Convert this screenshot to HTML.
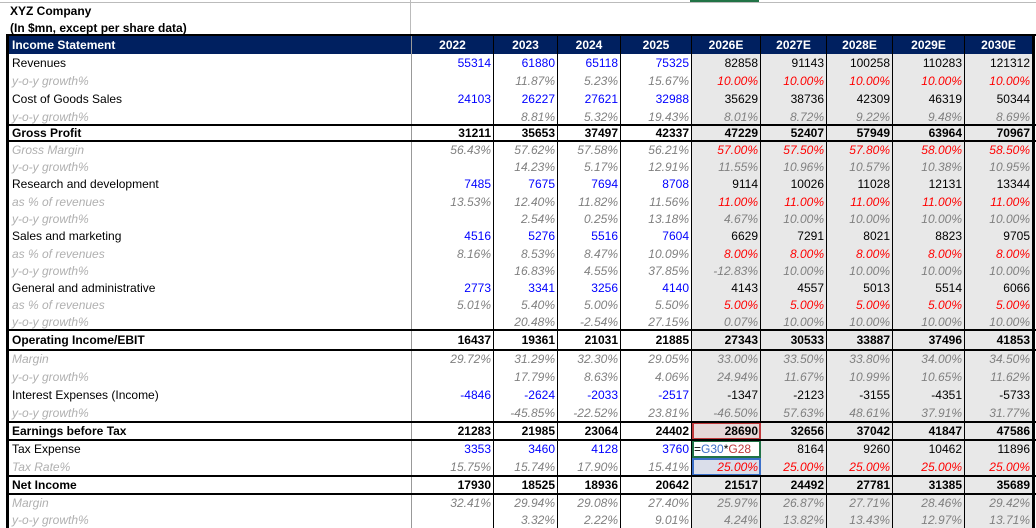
<!DOCTYPE html>
<html><head><meta charset="utf-8"><style>
body{margin:0;width:1036px;height:527px;overflow:hidden;background:#fff;font-family:"Liberation Sans",Arial,sans-serif;font-size:12px;position:relative}
.t{position:absolute;left:10px;font-weight:bold;font-size:12px}
table{position:absolute;left:6px;top:36px;border-collapse:collapse;table-layout:fixed;border-left:3px solid #000;border-right:3px solid #000}
td{padding:0 2px;white-space:nowrap;overflow:hidden;text-align:right;border-right:1px solid #000;line-height:14px}
td:first-child{text-align:left;border-right:1px solid #999;padding-left:3px}
tr.h td{background:#002060;color:#fff;font-weight:bold;text-align:center}
tr.h td:first-child{text-align:left}
tr.b td{font-weight:bold}
.s td{font-style:italic;color:#808080}
.s td:first-child{color:#b0b0b0}
td.f{background:#e8e8e8}
.bl{color:#0000ff}
.s td.r{color:#ff0000}
.ln{position:absolute;left:6px;width:1030px;height:2px;background:#000}
</style></head><body>
<div style="position:absolute;left:0;top:2px;width:1036px;height:1px;background:#bbb"></div>
<div style="position:absolute;left:690px;top:0;width:69px;height:2px;background:#217346"></div>
<div style="position:absolute;left:410px;top:0;width:1px;height:36px;background:#bbb"></div>
<div class="t" style="top:4px">XYZ Company</div>
<div class="t" style="top:21px">(In $mn, except per share data)</div>
<table>
<colgroup><col style="width:404px"><col style="width:82px"><col style="width:64px"><col style="width:63px"><col style="width:71px"><col style="width:69px"><col style="width:66px"><col style="width:66px"><col style="width:72px"><col style="width:69px"></colgroup>
<tr class="h" style="height:18px"><td>Income Statement</td><td>2022</td><td>2023</td><td>2024</td><td>2025</td><td>2026E</td><td>2027E</td><td>2028E</td><td>2029E</td><td>2030E</td></tr>
<tr style="height:18px"><td>Revenues</td><td class="bl">55314</td><td class="bl">61880</td><td class="bl">65118</td><td class="bl">75325</td><td class="f">82858</td><td class="f">91143</td><td class="f">100258</td><td class="f">110283</td><td class="f">121312</td></tr>
<tr class="s" style="height:18px"><td>y-o-y growth%</td><td></td><td>11.87%</td><td>5.23%</td><td>15.67%</td><td class="f r">10.00%</td><td class="f r">10.00%</td><td class="f r">10.00%</td><td class="f r">10.00%</td><td class="f r">10.00%</td></tr>
<tr style="height:18px"><td>Cost of Goods Sales</td><td class="bl">24103</td><td class="bl">26227</td><td class="bl">27621</td><td class="bl">32988</td><td class="f">35629</td><td class="f">38736</td><td class="f">42309</td><td class="f">46319</td><td class="f">50344</td></tr>
<tr class="s" style="height:17px"><td>y-o-y growth%</td><td></td><td>8.81%</td><td>5.32%</td><td>19.43%</td><td class="f">8.01%</td><td class="f">8.72%</td><td class="f">9.22%</td><td class="f">9.48%</td><td class="f">8.69%</td></tr>
<tr class="b" style="height:16px"><td>Gross Profit</td><td>31211</td><td>35653</td><td>37497</td><td>42337</td><td class="f">47229</td><td class="f">52407</td><td class="f">57949</td><td class="f">63964</td><td class="f">70967</td></tr>
<tr class="s" style="height:17px"><td>Gross Margin</td><td>56.43%</td><td>57.62%</td><td>57.58%</td><td>56.21%</td><td class="f r">57.00%</td><td class="f r">57.50%</td><td class="f r">57.80%</td><td class="f r">58.00%</td><td class="f r">58.50%</td></tr>
<tr class="s" style="height:17px"><td>y-o-y growth%</td><td></td><td>14.23%</td><td>5.17%</td><td>12.91%</td><td class="f">11.55%</td><td class="f">10.96%</td><td class="f">10.57%</td><td class="f">10.38%</td><td class="f">10.95%</td></tr>
<tr style="height:18px"><td>Research and development</td><td class="bl">7485</td><td class="bl">7675</td><td class="bl">7694</td><td class="bl">8708</td><td class="f">9114</td><td class="f">10026</td><td class="f">11028</td><td class="f">12131</td><td class="f">13344</td></tr>
<tr class="s" style="height:17px"><td>as % of revenues</td><td>13.53%</td><td>12.40%</td><td>11.82%</td><td>11.56%</td><td class="f r">11.00%</td><td class="f r">11.00%</td><td class="f r">11.00%</td><td class="f r">11.00%</td><td class="f r">11.00%</td></tr>
<tr class="s" style="height:17px"><td>y-o-y growth%</td><td></td><td>2.54%</td><td>0.25%</td><td>13.18%</td><td class="f">4.67%</td><td class="f">10.00%</td><td class="f">10.00%</td><td class="f">10.00%</td><td class="f">10.00%</td></tr>
<tr style="height:18px"><td>Sales and marketing</td><td class="bl">4516</td><td class="bl">5276</td><td class="bl">5516</td><td class="bl">7604</td><td class="f">6629</td><td class="f">7291</td><td class="f">8021</td><td class="f">8823</td><td class="f">9705</td></tr>
<tr class="s" style="height:17px"><td>as % of revenues</td><td>8.16%</td><td>8.53%</td><td>8.47%</td><td>10.09%</td><td class="f r">8.00%</td><td class="f r">8.00%</td><td class="f r">8.00%</td><td class="f r">8.00%</td><td class="f r">8.00%</td></tr>
<tr class="s" style="height:17px"><td>y-o-y growth%</td><td></td><td>16.83%</td><td>4.55%</td><td>37.85%</td><td class="f">-12.83%</td><td class="f">10.00%</td><td class="f">10.00%</td><td class="f">10.00%</td><td class="f">10.00%</td></tr>
<tr style="height:17px"><td>General and administrative</td><td class="bl">2773</td><td class="bl">3341</td><td class="bl">3256</td><td class="bl">4140</td><td class="f">4143</td><td class="f">4557</td><td class="f">5013</td><td class="f">5514</td><td class="f">6066</td></tr>
<tr class="s" style="height:17px"><td>as % of revenues</td><td>5.01%</td><td>5.40%</td><td>5.00%</td><td>5.50%</td><td class="f r">5.00%</td><td class="f r">5.00%</td><td class="f r">5.00%</td><td class="f r">5.00%</td><td class="f r">5.00%</td></tr>
<tr class="s" style="height:17px"><td>y-o-y growth%</td><td></td><td>20.48%</td><td>-2.54%</td><td>27.15%</td><td class="f">0.07%</td><td class="f">10.00%</td><td class="f">10.00%</td><td class="f">10.00%</td><td class="f">10.00%</td></tr>
<tr class="b" style="height:20px"><td>Operating Income/EBIT</td><td>16437</td><td>19361</td><td>21031</td><td>21885</td><td class="f">27343</td><td class="f">30533</td><td class="f">33887</td><td class="f">37496</td><td class="f">41853</td></tr>
<tr class="s" style="height:18px"><td>Margin</td><td>29.72%</td><td>31.29%</td><td>32.30%</td><td>29.05%</td><td class="f">33.00%</td><td class="f">33.50%</td><td class="f">33.80%</td><td class="f">34.00%</td><td class="f">34.50%</td></tr>
<tr class="s" style="height:18px"><td>y-o-y growth%</td><td></td><td>17.79%</td><td>8.63%</td><td>4.06%</td><td class="f">24.94%</td><td class="f">11.67%</td><td class="f">10.99%</td><td class="f">10.65%</td><td class="f">11.62%</td></tr>
<tr style="height:18px"><td>Interest Expenses (Income)</td><td class="bl">-4846</td><td class="bl">-2624</td><td class="bl">-2033</td><td class="bl">-2517</td><td class="f">-1347</td><td class="f">-2123</td><td class="f">-3155</td><td class="f">-4351</td><td class="f">-5733</td></tr>
<tr class="s" style="height:18px"><td>y-o-y growth%</td><td></td><td>-45.85%</td><td>-22.52%</td><td>23.81%</td><td class="f">-46.50%</td><td class="f">57.63%</td><td class="f">48.61%</td><td class="f">37.91%</td><td class="f">31.77%</td></tr>
<tr class="b" style="height:18px"><td>Earnings before Tax</td><td>21283</td><td>21985</td><td>23064</td><td>24402</td><td class="f" style="background:#e6d8d8;outline:2px solid #c0393b;outline-offset:-2px">28690</td><td class="f">32656</td><td class="f">37042</td><td class="f">41847</td><td class="f">47586</td></tr>
<tr style="height:18px"><td>Tax Expense</td><td class="bl">3353</td><td class="bl">3460</td><td class="bl">4128</td><td class="bl">3760</td><td style="background:#fff;text-align:left;outline:2px solid #217346;outline-offset:-2px">=<span style="color:#3b6fc8">G30</span>*<span style="color:#c0393b">G28</span></td><td class="f">8164</td><td class="f">9260</td><td class="f">10462</td><td class="f">11896</td></tr>
<tr class="s" style="height:18px"><td>Tax Rate%</td><td>15.75%</td><td>15.74%</td><td>17.90%</td><td>15.41%</td><td class="r" style="background:#dadeea;outline:2px solid #3b6fc8;outline-offset:-2px">25.00%</td><td class="f r">25.00%</td><td class="f r">25.00%</td><td class="f r">25.00%</td><td class="f r">25.00%</td></tr>
<tr class="b" style="height:18px"><td>Net Income</td><td>17930</td><td>18525</td><td>18936</td><td>20642</td><td class="f">21517</td><td class="f">24492</td><td class="f">27781</td><td class="f">31385</td><td class="f">35689</td></tr>
<tr class="s" style="height:17px"><td>Margin</td><td>32.41%</td><td>29.94%</td><td>29.08%</td><td>27.40%</td><td class="f">25.97%</td><td class="f">26.87%</td><td class="f">27.71%</td><td class="f">28.46%</td><td class="f">29.42%</td></tr>
<tr class="s" style="height:17px"><td>y-o-y growth%</td><td></td><td>3.32%</td><td>2.22%</td><td>9.01%</td><td class="f">4.24%</td><td class="f">13.82%</td><td class="f">13.43%</td><td class="f">12.97%</td><td class="f">13.71%</td></tr>
</table>
<div class="ln" style="top:34px"></div>
<div class="ln" style="top:124px"></div>
<div class="ln" style="top:140px"></div>
<div class="ln" style="top:329px"></div>
<div class="ln" style="top:349px"></div>
<div class="ln" style="top:421px"></div>
<div class="ln" style="top:439px"></div>
<div class="ln" style="top:475px"></div>
<div class="ln" style="top:493px"></div>
</body></html>
